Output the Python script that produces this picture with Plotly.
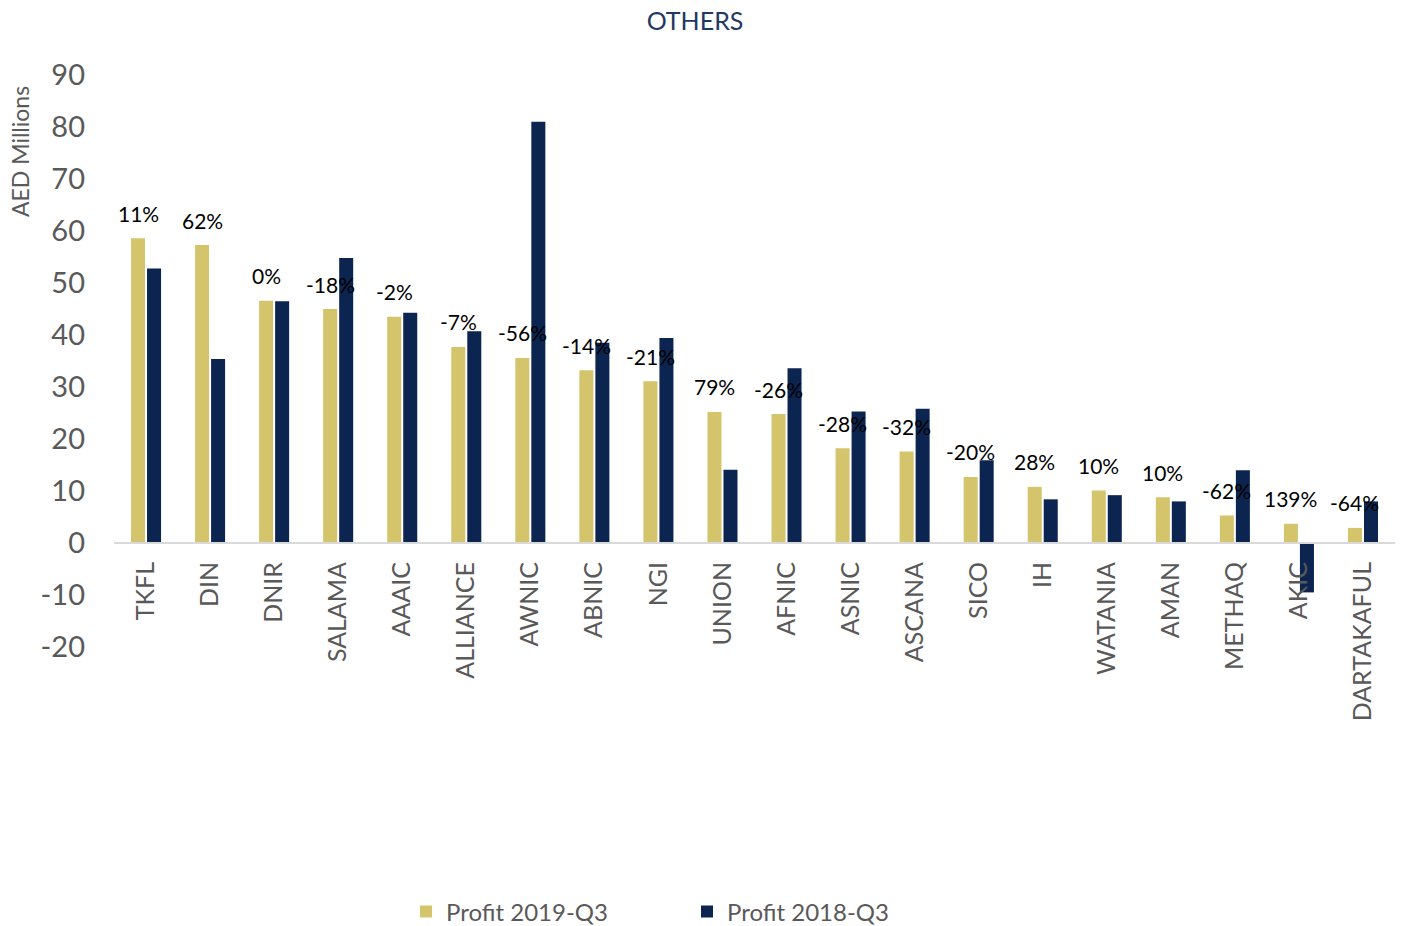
import plotly.graph_objects as go

categories = ["TKFL", "DIN", "DNIR", "SALAMA", "AAAIC", "ALLIANCE", "AWNIC", "ABNIC", "NGI", "UNION",
              "AFNIC", "ASNIC", "ASCANA", "SICO", "IH", "WATANIA", "AMAN", "METHAQ", "AKIC", "DARTAKAFUL"]
profit_2019 = [58.6, 57.3, 46.6, 45.0, 43.5, 37.7, 35.6, 33.2, 31.1, 25.2,
               24.8, 18.2, 17.6, 12.7, 10.8, 10.1, 8.8, 5.3, 3.7, 2.9]
profit_2018 = [52.8, 35.4, 46.5, 54.8, 44.3, 40.7, 81.0, 38.5, 39.4, 14.1,
               33.6, 25.3, 25.8, 15.9, 8.4, 9.2, 8.0, 14.0, -9.5, 8.0]
change_labels = ["11%", "62%", "0%", "-18%", "-2%", "-7%", "-56%", "-14%", "-21%", "79%",
                 "-26%", "-28%", "-32%", "-20%", "28%", "10%", "10%", "-62%", "139%", "-64%"]
y_ticks = [-20, -10, 0, 10, 20, 30, 40, 50, 60, 70, 80, 90]
y_tick_text = [str(v) for v in y_ticks]

GOLD = "#D4C56C"
NAVY = "#0B2550"
GREY = "#595959"
FONT = "Lato"

W, H = 1401, 926
ml, mr, mt, mb = 114, 6, 75, 279
ymin, ymax = -20, 90
plot_w = W - ml - mr
plot_h = H - mt - mb
zero_pos = (0 - ymin) / (ymax - ymin)

fig = go.Figure()
fig.add_trace(go.Bar(x=categories, y=profit_2019, name="Profit 2019-Q3",
                     marker=dict(color=GOLD, line=dict(width=0))))
fig.add_trace(go.Bar(x=categories, y=profit_2018, name="Profit 2018-Q3",
                     marker=dict(color=NAVY, line=dict(width=0))))

for cat, val, lab in zip(categories, profit_2019, change_labels):
    fig.add_annotation(x=cat, y=val, xref="x", yref="y", text=lab, showarrow=False,
                       xshift=-8, yshift=25, yanchor="middle",
                       font=dict(family=FONT, size=21, color="#000000"))

fig.add_annotation(x=(20 - ml) / plot_w, y=(H - mb - 152) / plot_h, xref="paper", yref="paper",
                   text="AED Millions", showarrow=False, textangle=-90,
                   xanchor="center", yanchor="middle",
                   font=dict(family=FONT, size=23, color=GREY))

fig.update_layout(
    width=W, height=H,
    margin=dict(l=ml, r=mr, t=mt, b=mb, autoexpand=False),
    paper_bgcolor="white", plot_bgcolor="white",
    barmode="group", bargap=0.5, bargroupgap=0.125,
    title=dict(text="OTHERS", x=695 / W, xref="container", y=1 - 21 / H, yref="container",
               xanchor="center", yanchor="middle",
               font=dict(family=FONT, size=25, color="#1F3864")),
    font=dict(family=FONT, color=GREY),
    xaxis=dict(anchor="free", position=zero_pos, showline=True, linecolor="#D9D9D9", linewidth=2,
               ticks="", tickangle=-90, tickfont=dict(family=FONT, size=25, color=GREY),
               showgrid=False, zeroline=False, ticklabelstandoff=8),
    yaxis=dict(range=[ymin, ymax], tickvals=y_ticks, ticktext=y_tick_text,
               showgrid=False, zeroline=False, showline=False,
               ticks="", tickfont=dict(family=FONT, size=29, color=GREY), ticklabelstandoff=28),
    legend=dict(orientation="h", x=(406 - ml) / plot_w, y=-(912 - (H - mb)) / plot_h,
                xanchor="left", yanchor="middle", font=dict(family=FONT, size=24, color=GREY),
                entrywidth=236, itemwidth=30, traceorder="normal"),
    showlegend=True,
)

fig.write_html("out.html", config={"displayModeBar": False},
               post_script="document.body.style.margin='0';")
